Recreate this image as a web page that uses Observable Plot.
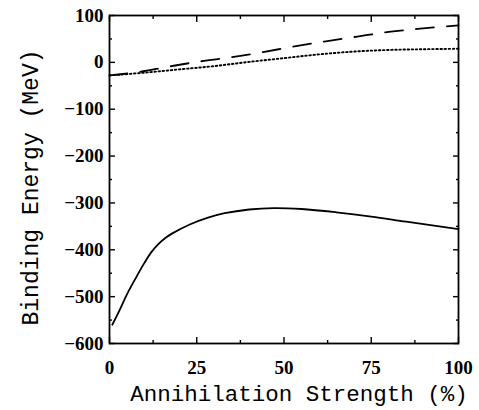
<!DOCTYPE html>
<html><head><meta charset="utf-8">
<script src="https://cdn.jsdelivr.net/npm/d3@7"></script>
<script src="https://cdn.jsdelivr.net/npm/@observablehq/plot@0.6"></script>
<style>body{margin:0;background:#fff}</style>
</head><body><div id="chart"></div>
<script>
const solidX = [0.8, 3, 5, 8, 10, 12, 14, 16, 18, 23, 28, 33, 40, 47, 55, 65, 75, 85, 100];
const solidY = [-560, -527, -495, -454, -428, -405, -388, -375, -365, -346, -332, -322, -314, -311, -313, -320, -329, -340, -356];
const dashX = [0, 8, 17, 26, 35, 44, 53, 62, 71, 80, 89, 100];
const dashY = [-28, -21, -9, 2, 11, 22, 34, 45, 55, 65, 72, 79];
const dotX = [0, 10, 20, 30, 40, 50, 60, 70, 80, 90, 100];
const dotY = [-28, -22, -15, -8, 1, 9, 17, 23, 26.5, 28, 29];
const xTicks = [0, 25, 50, 75, 100];
const xMinor = [12.5, 37.5, 62.5, 87.5];
const yTicks = [100, 0, -100, -200, -300, -400, -500, -600];
const yMinor = [50, -50, -150, -250, -350, -450, -550];

const solid = solidX.map((x, i) => ({x, y: solidY[i]}));
const dash = dashX.map((x, i) => ({x, y: dashY[i]}));
const dot = dotX.map((x, i) => ({x, y: dotY[i]}));
const blank = () => "";
const tickFont = {fontFamily: "Liberation Serif", fontWeight: "bold", fontSize: 19};

const plot = Plot.plot({
  width: 479, height: 410,
  marginLeft: 109, marginRight: 21, marginTop: 15, marginBottom: 67,
  x: {domain: [0, 100]},
  y: {domain: [-600, 100]},
  style: {background: "#fff", color: "#000", overflow: "visible"},
  marks: [
    Plot.frame({stroke: "#000", strokeWidth: 1.8}),
    Plot.axisX({ticks: xTicks, anchor: "bottom", tickSize: -6, tickFormat: blank, label: null, strokeWidth: 1.4}),
    Plot.axisX({ticks: xMinor, anchor: "bottom", tickSize: -3, tickFormat: blank, label: null, strokeWidth: 1.4}),
    Plot.axisX({ticks: xTicks, anchor: "top", tickSize: -6, tickFormat: blank, label: null, strokeWidth: 1.4}),
    Plot.axisX({ticks: xMinor, anchor: "top", tickSize: -3, tickFormat: blank, label: null, strokeWidth: 1.4}),
    Plot.axisY({ticks: yTicks, anchor: "left", tickSize: -6, tickFormat: blank, label: null, strokeWidth: 1.4}),
    Plot.axisY({ticks: yMinor, anchor: "left", tickSize: -3, tickFormat: blank, label: null, strokeWidth: 1.4}),
    Plot.axisY({ticks: yTicks, anchor: "right", tickSize: -6, tickFormat: blank, label: null, strokeWidth: 1.4}),
    Plot.axisY({ticks: yMinor, anchor: "right", tickSize: -3, tickFormat: blank, label: null, strokeWidth: 1.4}),
    Plot.axisX({ticks: xTicks, anchor: "bottom", tickSize: 0, tickPadding: 17, label: null, tickFormat: d => String(d), ...tickFont}),
    Plot.axisY({ticks: yTicks, anchor: "left", tickSize: 0, tickPadding: 6, label: null, tickFormat: d => d < 0 ? "\u2212" + Math.abs(d) : String(d), ...tickFont}),
    Plot.text(["Annihilation Strength (%)"], {frameAnchor: "bottom", dy: 57, dx: 15, textAnchor: "middle", lineAnchor: "bottom", fontFamily: "Liberation Mono", fontSize: 22.5}),
    Plot.text(["Binding Energy (MeV)"], {frameAnchor: "left", dx: -79, dy: 8, rotate: -90, textAnchor: "middle", fontFamily: "Liberation Mono", fontSize: 23}),
    Plot.line(solid, {x: "x", y: "y", curve: "catmull-rom", stroke: "#000", strokeWidth: 1.8}),
    Plot.line(dash, {x: "x", y: "y", curve: "catmull-rom", stroke: "#000", strokeWidth: 1.8, strokeDasharray: "18,13"}),
    Plot.line(dot, {x: "x", y: "y", curve: "catmull-rom", stroke: "#000", strokeWidth: 1.9, strokeDasharray: "1.5,2.6"})
  ]
});
document.getElementById("chart").appendChild(plot);
</script></body></html>
